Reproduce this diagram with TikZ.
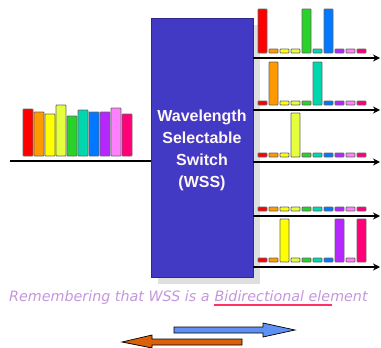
\documentclass[tikz,border=0pt]{standalone}
\usepackage{fontspec}
\setmainfont{Liberation Sans}
\newfontfamily\capfont{DejaVu Sans}
\usetikzlibrary{arrows.meta}
\definecolor{boxblue}{RGB}{66,58,196}
\definecolor{cRed}{RGB}{255,0,0}
\definecolor{cOrange}{RGB}{255,153,0}
\definecolor{cYellow}{RGB}{255,255,0}
\definecolor{cLime}{RGB}{230,255,60}
\definecolor{cGreen}{RGB}{40,210,40}
\definecolor{cCyan}{RGB}{0,215,175}
\definecolor{cBlue}{RGB}{0,120,255}
\definecolor{cPurple}{RGB}{180,40,255}
\definecolor{cPink}{RGB}{255,128,255}
\definecolor{cMag}{RGB}{255,0,120}
\definecolor{txtc}{RGB}{196,150,220}
\definecolor{ulc}{RGB}{255,50,100}
\definecolor{arrblue}{RGB}{95,145,245}
\definecolor{arrorange}{RGB}{220,95,10}
\begin{document}
\begin{tikzpicture}[x=1pt,y=-1pt,
  bar/.style={draw=gray!80!black,line width=0.8pt,rounded corners=0.8pt},
  wire/.style={black,line width=2.2pt},
  outwire/.style={black,line width=2pt,-{Stealth[length=7pt,width=7pt]}},
  bigarrow/.style={draw=black,line width=0.7pt},
  captext/.style={inner sep=0pt,text=txtc,font=\capfont\itshape\fontsize{14.3}{15}\selectfont}]
\useasboundingbox (0,0) rectangle (381,348);
% box shadow and box
\fill[gray!25] (158,25) rectangle (260,284);
\node[draw=boxblue!70!black,fill=boxblue,minimum width=102pt,minimum height=259pt,inner sep=0pt,anchor=north west] (wss) at (151,18) {};
\node[text=white!85!pink,font=\fontsize{16}{22}\selectfont\bfseries,align=center] (wsslabel) at (202,150) {Wavelength\\Selectable\\Switch\\(WSS)};
% input
\coordinate (in) at (10,161);
\draw[wire] (in) -- (wss.west |- in);
\foreach \c/\t [count=\i from 0] in {cRed/109,cOrange/112,cYellow/114,cLime/105,cGreen/116,cCyan/110,cBlue/112,cPurple/112,cPink/108,cMag/114}{
  \filldraw[bar,fill=\c] (23+11*\i,156) rectangle (33+11*\i,\t);
}
% outputs
\foreach \y/\name in {58/oa,110/ob,162/oc,216/od,267/oe}{
  \coordinate (\name) at (380,\y);
  \draw[outwire] (wss.east |- \name) -- (\name);
}
% output bars: tall tops (0 = small)
\foreach \y/\tops in {58/{9,0,0,0,9,0,9,0,0,0},110/{0,62,0,0,0,62,0,0,0,0},162/{0,0,0,113,0,0,0,0,0,0},216/{0,0,0,0,0,0,0,0,0,0},267/{0,0,219,0,0,0,0,219,0,219}}{
  \foreach \c [count=\i from 0] in {cRed,cOrange,cYellow,cLime,cGreen,cCyan,cBlue,cPurple,cPink,cMag}{
    \pgfmathsetmacro{\tp}{{\tops}[\i]}
    \pgfmathsetmacro{\top}{ifthenelse(\tp==0,\y-9,\tp)}
    \filldraw[bar,fill=\c] (258+11*\i,\y-5) rectangle (267+11*\i,\top);
  }
}
% caption
\node[captext,anchor=base west] (cap1) at (9,301) {Remembering that WSS is a};
\node[captext,anchor=base west] (cap2) at ([xshift=4.6pt]cap1.base east) {Bidirectional element};
\draw[ulc,line width=1.2pt] ([yshift=-4pt]cap2.base west) -- ([xshift=-36pt,yshift=-4pt]cap2.base east);
% bidirectional arrows
\draw[bigarrow,fill=arrblue] (174,327) -- (263,327) -- (263,323) -- (295,330) -- (263,337) -- (263,333) -- (174,333) -- cycle;
\draw[bigarrow,fill=arrorange] (242,339) -- (152,339) -- (152,335) -- (122,342) -- (152,348) -- (152,345) -- (242,345) -- cycle;
\end{tikzpicture}
\end{document}
